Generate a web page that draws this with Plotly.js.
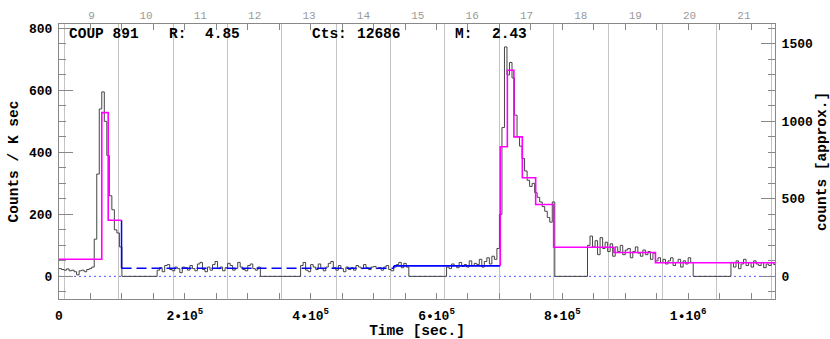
<!DOCTYPE html>
<html><head><meta charset="utf-8">
<script src="https://cdn.plot.ly/plotly-3.0.1.min.js"></script>
<style>html,body{margin:0;padding:0;background:#fff}#chart{width:830px;height:339px}</style>
</head><body><div id="chart"></div><script>
// ---------- data ----------
const binWidth = 4000; // seconds per light-curve bin
const segStart = [0, 156000, 384000, 616000, 840000, 1068000];
const segA = [25, 22, 20, 24, 18, 20, 15, 5, 18, 20, 15, 22, 25, 30, 120, 330, 540, 595, 500, 390, 260, 215, 150, 140, 95];
const segB = [20, 28, 15, 35, 38, 22, 18, 30, 25, 12, 30, 28, 20, 35, 25, 18, 40, 45, 22, 15, 30, 20, 38, 48, 25, 30, 18, 28, 42, 35, 20, 25, 45, 30, 22, 18, 35, 40, 25, 20, 30];
const segC = [35, 45, 20, 15, 38, 30, 22, 40, 25, 18, 30, 42, 48, 28, 20, 35, 25, 15, 30, 22, 28, 20, 35, 30, 25, 38, 28, 22, 30, 32, 25, 28, 20, 30, 35, 22, 18, 30, 38, 45, 28, 42, 30];
const segD = [30, 25, 40, 35, 28, 45, 32, 38, 30, 50, 35, 42, 38, 55, 30, 48, 60, 40, 65, 55, 90, 200, 480, 740, 650, 690, 640, 520, 450, 420, 380, 340, 310, 290, 300, 270, 255, 240, 225, 210, 190, 175, 240];
const segE = [100, 130, 95, 115, 70, 125, 90, 110, 80, 105, 65, 95, 80, 100, 70, 85, 90, 60, 80, 95, 75, 65, 85, 70, 80, 55, 75, 50, 60, 45, 55, 40, 50, 60, 35, 45, 55, 30, 50, 40, 60, 45];
const segF = [45, 30, 50, 25, 40, 55, 35, 45, 30, 50, 40, 35, 45, 28, 40, 35, 45, 38];
const segRates = [segA, segB, segC, segD, segE, segF];

// Bayesian-block levels (flares, magenta)
const flare1Edges = [0, 68000, 78200, 99400];
const flare1Levels = [55, 528, 181];
const flare2Edges = [701400, 712600, 723000, 736400, 757600, 786200, 882000, 948000, 1138000];
const flare2Levels = [418, 665, 450, 318, 232, 94, 77, 44];
// quiescent levels (blue)
const quietEdges = [99400, 532000, 701400];
const quietLevels = [26, 34];
const quietDash = ['10px,5px', 'solid'];

// axes
const xRange = [0, 1138000];
const yRange = [-73, 814];
const rightScale = 2;            // counts [approx.] per Counts / K sec
const dayOffset = 8.40;          // top axis value at t = 0 (days)
const secPerDay = 86400;
const xTickVals = [0, 200000, 400000, 600000, 800000, 1000000];
const xTickText = ['0', '2\u202210<sup>5</sup>', '4\u202210<sup>5</sup>', '6\u202210<sup>5</sup>', '8\u202210<sup>5</sup>', '1\u202210<sup>6</sup>'];
const dayTicks = [9, 10, 11, 12, 13, 14, 15, 16, 17, 18, 19, 20, 21];
const rightTicks = [0, 500, 1000, 1500];
const headerText = ['COUP 891', 'R:', '4.85', 'Cts:', '12686', 'M:', '2.43'];
const headerPx = [66.7, 166.7, 203.3, 310, 354.5, 453.3, 490];

// ---------- build traces ----------
const lx = [], ly = [];
segRates.forEach((r, s) => {
  r.forEach((v, i) => { lx.push(segStart[s] + i * binWidth); ly.push(v); });
  lx.push(segStart[s] + r.length * binWidth); ly.push(0);
});

const FONT = 'Liberation Mono, Courier New, monospace';
const traces = [];
traces.push({x: lx, y: ly, type: 'scatter', mode: 'lines', line: {shape: 'hv', color: '#444', width: 1}, hoverinfo: 'skip'});

// quiescent blue: drop from last flare-1 block, then levels
traces.push({x: [quietEdges[0], quietEdges[0]], y: [flare1Levels[flare1Levels.length - 1], quietLevels[0]],
  type: 'scatter', mode: 'lines', line: {color: '#0000ff', width: 1.5}});
quietLevels.forEach((v, i) => {
  traces.push({x: [quietEdges[i], quietEdges[i + 1]], y: [v, v], type: 'scatter', mode: 'lines',
    line: {color: '#0000ff', width: 1.6, dash: quietDash[i]}});
  if (i > 0) traces.push({x: [quietEdges[i], quietEdges[i]], y: [quietLevels[i - 1], v], type: 'scatter', mode: 'lines',
    line: {color: '#0000ff', width: 1.6}});
});

function blockTrace(edges, levels, startLevel) {
  const x = [], y = [];
  if (startLevel !== undefined) { x.push(edges[0]); y.push(startLevel); }
  levels.forEach((v, i) => { x.push(edges[i]); y.push(v); });
  x.push(edges[edges.length - 1]); y.push(levels[levels.length - 1]);
  return {x, y, type: 'scatter', mode: 'lines', line: {shape: 'hv', color: '#ff00ff', width: 1.6}};
}
traces.push(blockTrace(flare1Edges, flare1Levels));
traces.push(blockTrace(flare2Edges, flare2Levels, quietLevels[quietLevels.length - 1]));

// helper traces to activate the secondary axes
traces.push({x: [null], y: [null], xaxis: 'x2', yaxis: 'y', type: 'scatter', mode: 'lines', showlegend: false});
traces.push({x: [null], y: [null], xaxis: 'x', yaxis: 'y2', type: 'scatter', mode: 'lines', showlegend: false});

const annotations = headerText.map((t, i) => ({
  text: t, xref: 'paper', yref: 'paper', x: (headerPx[i] - 59) / 716, y: 0.9636,
  xanchor: 'left', yanchor: 'middle', showarrow: false,
  font: {family: FONT, size: 14.5, color: '#000', weight: 'bold'}
}));

const tickFont = {family: FONT, size: 13, color: '#000', weight: 'bold'};
const titleFont = {family: FONT, size: 14.5, color: '#000', weight: 'bold'};

const layout = {
  width: 830, height: 339,
  margin: {l: 59, r: 55, t: 24, b: 40, pad: 0},
  paper_bgcolor: '#fff', plot_bgcolor: '#fff',
  showlegend: false,
  xaxis: {
    range: xRange, tickmode: 'array', tickvals: xTickVals, ticktext: xTickText,
    ticks: 'inside', ticklen: 6, tickcolor: '#888', tickwidth: 1,
    showline: true, linecolor: '#888', linewidth: 1, mirror: 'allticks',
    showgrid: false, zeroline: false, tickfont: tickFont, ticklabelstandoff: 4,
    minor: {tickmode: 'linear', tick0: 0, dtick: 50000, ticks: 'inside', ticklen: 3, tickcolor: '#888', showgrid: false},
    title: {text: 'Time [sec.]', font: titleFont, standoff: 2}
  },
  xaxis2: {
    overlaying: 'x', side: 'top', range: [dayOffset, dayOffset + xRange[1] / secPerDay],
    tickmode: 'array', tickvals: dayTicks, ticks: '', showline: false, zeroline: false,
    showgrid: false, tickfont: {family: FONT, size: 11, color: '#999'}, ticklabelstandoff: 2,
    minor: {tickmode: 'linear', tick0: 8.5, dtick: 1, showgrid: true, gridcolor: '#c4c4c4', gridwidth: 1, ticks: ''}
  },
  yaxis: {
    range: yRange, tickmode: 'linear', tick0: 0, dtick: 200,
    ticks: 'inside', ticklen: 14, tickcolor: '#888', tickwidth: 1,
    showline: true, linecolor: '#888', linewidth: 1, mirror: false,
    showgrid: false, zeroline: false, tickfont: tickFont, ticklabelstandoff: 3,
    minor: {tickmode: 'linear', tick0: 0, dtick: 50, ticks: 'inside', ticklen: 7, tickcolor: '#888', showgrid: false},
    title: {text: 'Counts / K sec', font: titleFont, standoff: 6}
  },
  yaxis2: {
    overlaying: 'y', side: 'right', range: [yRange[0] * rightScale, yRange[1] * rightScale],
    tickmode: 'array', tickvals: rightTicks,
    ticks: 'inside', ticklen: 14, tickcolor: '#888', tickwidth: 1,
    showline: true, linecolor: '#888', linewidth: 1,
    showgrid: false, zeroline: false, tickfont: tickFont, ticklabelstandoff: 3,
    minor: {tickmode: 'linear', tick0: 0, dtick: 100, ticks: 'inside', ticklen: 7, tickcolor: '#888', showgrid: false},
    title: {text: 'counts [approx.]', font: titleFont, standoff: 6}
  },
  shapes: [{type: 'line', xref: 'paper', x0: 0, x1: 1, yref: 'y', y0: 0, y1: 0,
    line: {color: '#5555ff', width: 1, dash: '2px,3px'}, layer: 'below'}],
  annotations
};

Plotly.newPlot('chart', traces, layout, {staticPlot: true, displayModeBar: false});
</script></body></html>
